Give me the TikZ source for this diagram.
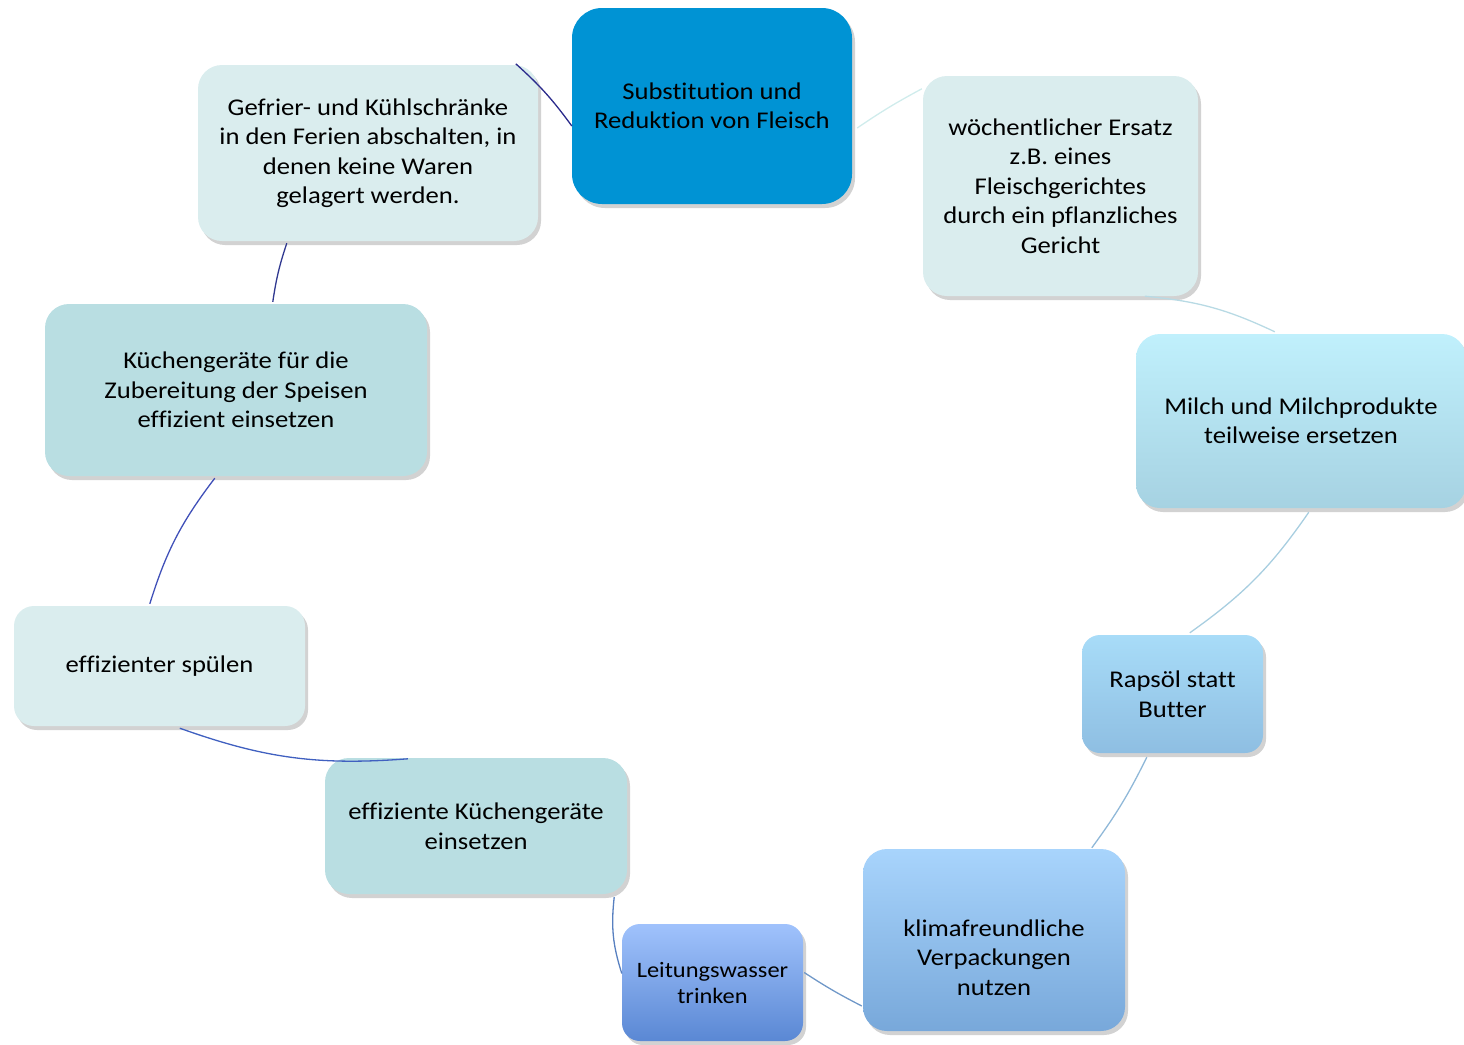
\documentclass[tikz,border=0pt]{standalone}
\usepackage{fontspec}
\setmainfont{Carlito}[FakeStretch=1.11, Ligatures=NoCommon]
\usetikzlibrary{calc,shadows}

\definecolor{mainblue}{HTML}{0093D4}
\definecolor{palecyan}{HTML}{DAEDEE}
\definecolor{softcyan}{HTML}{B9DEE2}
\definecolor{milchtop}{HTML}{C0F0FC}
\definecolor{milchbot}{HTML}{A6D2E2}
\definecolor{rapstop}{HTML}{A8DCF8}
\definecolor{rapsbot}{HTML}{8EBEE2}
\definecolor{klimatop}{HTML}{A8D4FC}
\definecolor{klimabot}{HTML}{78A8DA}
\definecolor{wassertop}{HTML}{A0C2FC}
\definecolor{wasserbot}{HTML}{5A88D4}
% connector colours, one per link around the ring
\definecolor{lnGS}{RGB}{43,43,140}
\definecolor{lnSW}{RGB}{208,236,236}
\definecolor{lnWM}{RGB}{184,218,228}
\definecolor{lnMR}{RGB}{168,206,224}
\definecolor{lnRK}{RGB}{144,184,216}
\definecolor{lnKL}{RGB}{112,152,200}
\definecolor{lnLE}{RGB}{88,128,192}
\definecolor{lnES}{RGB}{64,96,192}
\definecolor{lnSK}{RGB}{64,80,184}
\definecolor{lnKG}{RGB}{48,56,144}

\tikzset{
  idea/.style={rectangle, rounded corners=24pt, align=center, inner sep=0pt,
    text=black, font=\fontsize{24}{29.5}\selectfont,
    drop shadow={shadow xshift=3pt, shadow yshift=-4pt, opacity=0.25, fill=black!70}},
  link/.style={line width=1.3pt},
}
% text block set lower than the box centre, without changing the box
\newcommand{\lowertext}[2]{\raisebox{-#1}[\height][\depth]{\begin{tabular}{@{}c@{}}#2\end{tabular}}}

\begin{document}
\begin{tikzpicture}[x=1pt,y=-1pt]
\useasboundingbox (0,0) rectangle (1464,1044);

% central topic and the ring of measures around it
\node[idea, fill=mainblue, minimum width=280pt, minimum height=196pt, rounded corners=30pt]
  (S) at (712,106) {Substitution und\\Reduktion von Fleisch};
\node[idea, fill=palecyan, minimum width=275pt, minimum height=220pt]
  (W) at (1060.5,186) {wöchentlicher Ersatz\\z.B. eines\\Fleischgerichtes\\durch ein pflanzliches\\Gericht};
\node[idea, top color=milchtop, bottom color=milchbot, minimum width=330pt, minimum height=174pt]
  (M) at (1301,421) {Milch und Milchprodukte\\teilweise ersetzen};
\node[idea, top color=rapstop, bottom color=rapsbot, minimum width=181pt, minimum height=118pt, rounded corners=18pt]
  (R) at (1172.5,694) {Rapsöl statt\\Butter};
\node[idea, top color=klimatop, bottom color=klimabot, minimum width=262pt, minimum height=182pt]
  (K) at (994,940) {\lowertext{20pt}{klimafreundliche\\Verpackungen\\nutzen}};
\node[idea, top color=wassertop, bottom color=wasserbot, minimum width=181pt, minimum height=117pt, rounded corners=18pt,
  font=\fontsize{22}{26}\selectfont]
  (L) at (712.5,982.5) {Leitungswasser\\trinken};
\node[idea, fill=softcyan, minimum width=302pt, minimum height=136pt]
  (E) at (476,826) {effiziente Küchengeräte\\einsetzen};
\node[idea, fill=palecyan, minimum width=291pt, minimum height=120pt, rounded corners=20pt]
  (Sp) at (159.5,666) {effizienter spülen};
\node[idea, fill=softcyan, minimum width=382pt, minimum height=172pt]
  (KG) at (236,390) {Küchengeräte für die\\Zubereitung der Speisen\\effizient einsetzen};
\node[idea, fill=palecyan, minimum width=340pt, minimum height=176pt]
  (G) at (368,153) {Gefrier- und Kühlschränke\\in den Ferien abschalten, in\\denen keine Waren\\gelagert werden.};

% connectors along the ring
\draw[link, lnGS] ($(G.north west)+(318,-1)$) to[bend left=6] ($(S.west)+(0,20)$);
\draw[link, lnSW] ($(S.east)+(5,22)$) to[bend left=3] ($(W.north west)+(-1,13)$);
\draw[link, lnWM] ($(W.south west)+(222,0)$) to[bend left=10] ($(M.north west)+(139,-2)$);
\draw[link, lnMR] ($(M.south west)+(173,4)$) to[bend left=10] ($(R.north west)+(108,-2)$);
\draw[link, lnRK] ($(R.south west)+(65,4)$) to[bend left=5] ($(K.north west)+(229,-1)$);
\draw[link, lnKL] ($(K.west)+(-1,66)$) to[bend left=3] ($(L.east)+(1,-10)$);
\draw[link, lnLE] ($(L.west)+(0,-9)$) to[bend left=12] ($(E.south east)+(-13,3)$);
\draw[link, lnES] ($(E.north west)+(83,1)$) to[bend left=12] ($(Sp.south west)+(166,2)$);
\draw[link, lnSK] ($(Sp.north west)+(136,-2)$) to[bend left=10] ($(KG.south west)+(170,2)$);
\draw[link, lnKG] ($(KG.north west)+(228,-2)$) to[bend left=5] ($(G.south west)+(89,2)$);
\end{tikzpicture}
\end{document}
